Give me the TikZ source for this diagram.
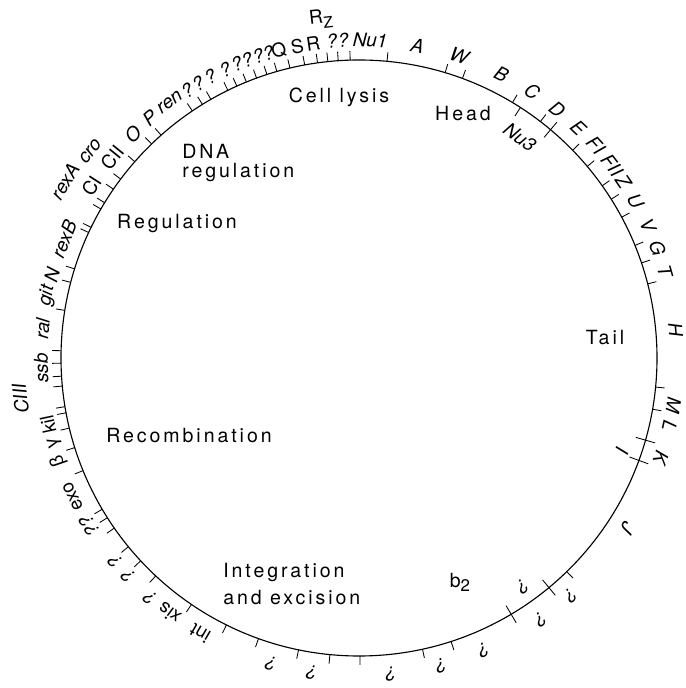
\documentclass[tikz,border=0pt]{standalone}
\usepackage{fontspec}
\setmainfont{TeX Gyre Heros}
\newfontfamily\regionfont[LetterSpace=15]{TeX Gyre Heros}
\newfontfamily\greekfont{Liberation Sans}
\usepackage{tikz}

\tikzset{
  gene/.style={font=\fontsize{13.5}{14}\selectfont\itshape, inner sep=0pt},
  generm/.style={font=\fontsize{13.5}{14}\selectfont, inner sep=0pt},
  region/.style={font=\regionfont\fontsize{13.9}{13.5}\selectfont, align=left, inner sep=0pt},
  genetick/.style={line width=0.6pt},
}

\begin{document}
\begin{tikzpicture}[x=0.025cm, y=0.025cm]
  \useasboundingbox (-359,-330) rectangle (326,358);
  \draw[line width=0.8pt] (0,0) circle (298);
  % gene boundaries
  \foreach \a in {84.6,91.7,94.0,96.0,98.0,100.5,103.4,106.0,108.0,110.1,112.2,114.2,
      116.1,119.8,121.7,124.0,131.6,134.1,138.8,143.1,145.5,148.6,150.0,154.0,155.1,
      162.6,165.3,170.8,178.6,181.0,183.5,185.4,189.4,190.6,193.6,197.5,202.2,210.5,
      212.4,214.8,219.3,222.9,227.0,235.8,243.6,250.3,258.3,264.4,270.2,282.3,288.0,
      314.2,350.1,354.4,14.4,18.6,22.2,28.2,32.2,35.3,40.0,44.2,52.5,59.0,69.7,73.2}
    \draw[genetick] (\a:298) -- (\a:307);
  \foreach \a in {50.0,300.7,309.6,339.9,344.0}
    \draw[genetick] (\a:288) -- (\a:308);
  \draw[genetick] (57.2:298) -- (57.2:288);
  % genes
  \foreach \a/\t [count=\i] in {88/Nu1,79.4/A,71.6/W,63.4/B,57.0/C,51.5/D,46.4/E,
      41.9/FI,37.3/FII,33.8/Z,29.6/U,24.7/V,20.2/G,15.9/T,5.1/H,-8.5/M,-12.4/L,
      -18.2/K,-32.3/J,-48.2/?,-55.1/?,-66.9/?,-75/?,-84.2/?,261.5/?,254/?,229/?,
      223.5/?,220/?,212/??,181.8/ssb,174.7/ral,168.7/git,164.9/N,158/rexB,135.3/O,
      131.1/P,126.5/ren,122.7/?,120.4/?,117.9/?,114.9/?,112.6/?,110.6/?,108.5/?,
      106.6/?,94.9/?,92.9/?}
    \node[gene, rotate=\a-90] (g\i) at (\a:318) {\t};
  \foreach \a/\t [count=\i] in {240/int,233.4/xis,205.8/exo,192.1/kil,147.3/CI,
      140.9/CII,104.6/Q,101.2/S,98.3/R}
    \node[generm, rotate=\a-90] (h\i) at (\a:318) {\t};
  \node[generm, rotate=108.9] (beta) at (198.9:318) {\greekfont β};
  \node[generm, rotate=105.5] (gamma) at (195.5:316) {\greekfont γ};
  \node[gene, rotate=96.9] (ciii) at (186.9:341) {CIII};
  \node[gene, rotate=59] (rexa) at (149:343) {rexA};
  \node[gene, rotate=52.4] (cro) at (142.4:339) {cro};
  \node[generm, rotate=6.4] (rz) at (96.4:341) {R\raisebox{-3.5pt}{\fontsize{11}{11}\selectfont Z}};
  \node[gene, rotate=-36.1] (nu3) at (53.9:273) {Nu3};
  \node[gene, rotate=-109.3] (geneI) at (-19.3:279) {I};
  \node[gene, rotate=-144.3] (inq) at (-54.3:281) {?};
  % functional regions
  \node[region] (lysis) at (-20,261) {Cell lysis};
  \node[region] (head) at (104,244) {Head};
  \node[region, anchor=west] (dnareg) at (-177,195) {DNA\\regulation};
  \node[region] (reg) at (-182,134) {Regulation};
  \node[region] (tail) at (246,20) {Tail};
  \node[region] (recomb) at (-170,-78) {Recombination};
  \node[region, anchor=west, font=\regionfont\fontsize{13.9}{19.2}\selectfont] (integ) at (-136,-226.5) {Integration\\and excision};
  \node[region] (b2) at (101,-224) {b\raisebox{-3pt}{\fontsize{12}{12}\selectfont 2}};
\end{tikzpicture}
\end{document}
